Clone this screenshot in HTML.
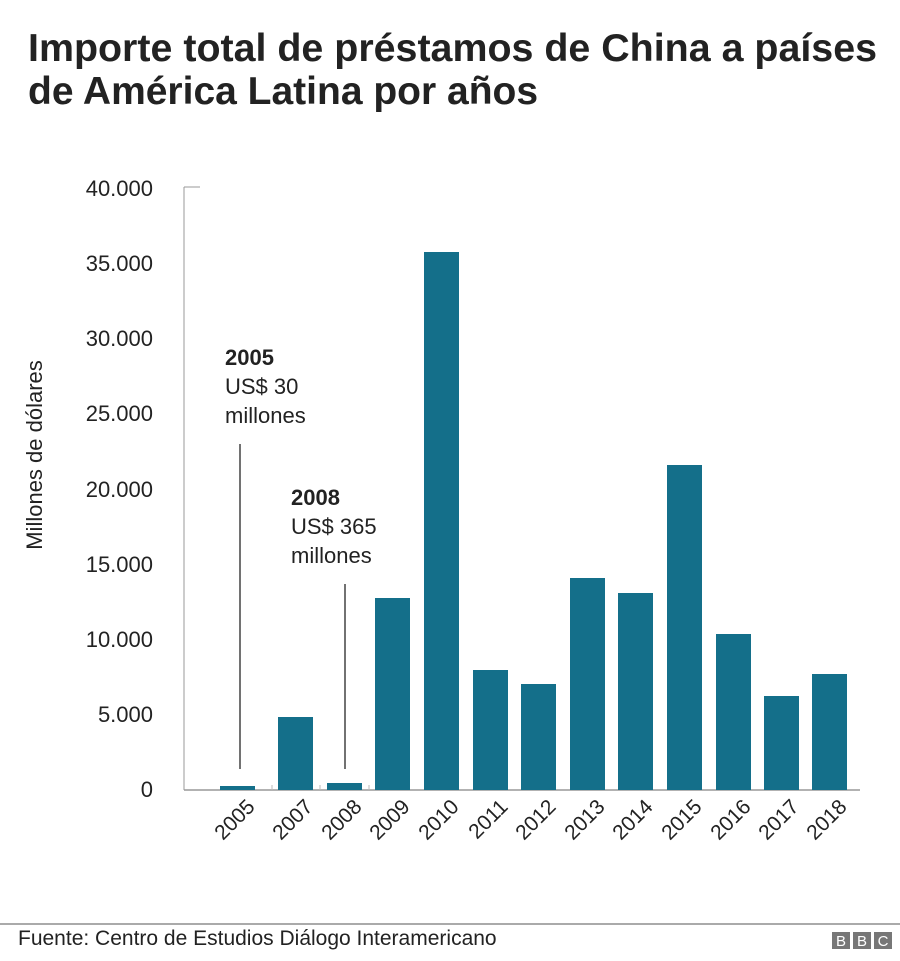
<!DOCTYPE html>
<html><head><meta charset="utf-8"><style>
body{margin:0;background:#fff;font-family:"Liberation Sans",Arial,sans-serif}
</style></head><body>
<svg width="900" height="956" xmlns="http://www.w3.org/2000/svg" font-family="Liberation Sans, Arial, sans-serif">
<text x="28" y="61" font-size="39" font-weight="bold" fill="#222" textLength="849" lengthAdjust="spacingAndGlyphs">Importe total de préstamos de China a países</text>
<text x="28" y="104" font-size="39" font-weight="bold" fill="#222">de América Latina por años</text>
<g font-size="22" fill="#222" text-anchor="end">
<text x="153" y="196">40.000</text>
<text x="153" y="271">35.000</text>
<text x="153" y="346">30.000</text>
<text x="153" y="421">25.000</text>
<text x="153" y="497">20.000</text>
<text x="153" y="572">15.000</text>
<text x="153" y="647">10.000</text>
<text x="153" y="722">5.000</text>
<text x="153" y="797">0</text>
</g>
<text transform="translate(42,455) rotate(-90)" font-size="22" fill="#222" text-anchor="middle">Millones de dólares</text>
<line x1="184" y1="187" x2="184" y2="790" stroke="#999" stroke-width="1"/>
<line x1="184" y1="187" x2="200" y2="187" stroke="#999" stroke-width="1"/>
<line x1="184" y1="790" x2="860" y2="790" stroke="#999" stroke-width="1.5"/>
<g stroke="#bbb" stroke-width="1">
<line x1="272" y1="785" x2="272" y2="790"/><line x1="320" y1="785" x2="320" y2="790"/><line x1="369" y1="785" x2="369" y2="790"/>
</g>
<g fill="#146f8a">
<rect x="220" y="786" width="35" height="4"/>
<rect x="278" y="717" width="35" height="73"/>
<rect x="327" y="783" width="35" height="7"/>
<rect x="375" y="598" width="35" height="192"/>
<rect x="424" y="252" width="35" height="538"/>
<rect x="473" y="670" width="35" height="120"/>
<rect x="521" y="684" width="35" height="106"/>
<rect x="570" y="578" width="35" height="212"/>
<rect x="618" y="593" width="35" height="197"/>
<rect x="667" y="465" width="35" height="325"/>
<rect x="716" y="634" width="35" height="156"/>
<rect x="764" y="696" width="35" height="94"/>
<rect x="812" y="674" width="35" height="116"/>
</g>
<line x1="240" y1="444" x2="240" y2="769" stroke="#444" stroke-width="1.5"/>
<line x1="345" y1="584" x2="345" y2="769" stroke="#444" stroke-width="1.5"/>
<g font-size="22" fill="#222">
<text x="225" y="365" font-weight="bold">2005</text>
<text x="225" y="394">US$ 30</text>
<text x="225" y="423">millones</text>
<text x="291" y="505" font-weight="bold">2008</text>
<text x="291" y="534">US$ 365</text>
<text x="291" y="563">millones</text>
</g>
<g font-size="21" fill="#222" text-anchor="end">
<text transform="translate(256,808) rotate(-45)">2005</text>
<text transform="translate(314,808) rotate(-45)">2007</text>
<text transform="translate(363,808) rotate(-45)">2008</text>
<text transform="translate(411,808) rotate(-45)">2009</text>
<text transform="translate(460,808) rotate(-45)">2010</text>
<text transform="translate(509,808) rotate(-45)">2011</text>
<text transform="translate(557,808) rotate(-45)">2012</text>
<text transform="translate(606,808) rotate(-45)">2013</text>
<text transform="translate(654,808) rotate(-45)">2014</text>
<text transform="translate(703,808) rotate(-45)">2015</text>
<text transform="translate(752,808) rotate(-45)">2016</text>
<text transform="translate(800,808) rotate(-45)">2017</text>
<text transform="translate(848,808) rotate(-45)">2018</text>
</g>
<rect x="0" y="923" width="900" height="2" fill="#aaa"/>
<text x="18" y="945" font-size="21" fill="#222">Fuente: Centro de Estudios Diálogo Interamericano</text>
<g fill="#777"><rect x="832" y="932" width="18" height="17"/><rect x="853" y="932" width="18" height="17"/><rect x="874" y="932" width="18" height="17"/></g>
<g fill="#fff" font-size="15" text-anchor="middle"><text x="841" y="946">B</text><text x="862" y="946">B</text><text x="883" y="946">C</text></g>
</svg>
</body></html>
